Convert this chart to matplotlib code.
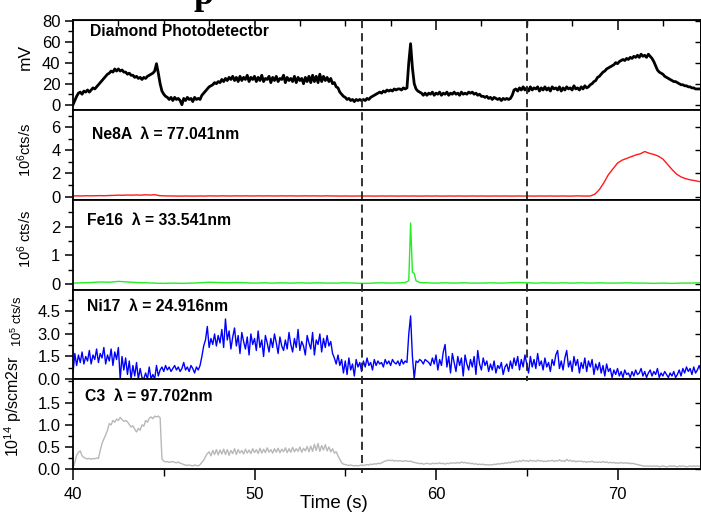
import numpy as np
import matplotlib
matplotlib.use("Agg")
import matplotlib.pyplot as plt
from matplotlib.ticker import (MultipleLocator, FormatStrFormatter,
                               NullLocator, FixedLocator)
from matplotlib.lines import Line2D
from matplotlib.transforms import blended_transform_factory

plt.rcParams["font.family"] = ["Liberation Sans", "DejaVu Sans"]
plt.rcParams["mathtext.fontset"] = "custom"
plt.rcParams["mathtext.rm"] = "Liberation Sans"
plt.rcParams["mathtext.it"] = "Liberation Sans:italic"
plt.rcParams["mathtext.bf"] = "Liberation Sans:bold"

# ---------------------------------------------------------------- data
# common 0.1 s time base for the densely sampled traces
t_fast = np.round(np.arange(40.0, 74.65, 0.1), 2)

# diamond photodetector signal (mV)
diamond_mv = [
    0, 4, 8, 11, 12, 10, 13, 12, 14, 12,
    14, 16, 15, 17, 19, 21, 23, 25, 27, 29,
    30, 32, 31, 34, 32, 34, 32, 33, 31, 31,
    29, 30, 28, 28, 26, 27, 25, 26, 24, 26,
    25, 27, 28, 29, 30, 32, 39, 30, 20, 13,
    10, 8, 7, 5, 7, 4, 7, 5, 6, 4,
    0, 6, 4, 7, 5, 6, 3, 7, 5, 6,
    5, 9, 11, 13, 15, 17, 18, 19, 21, 20,
    22, 21, 24, 22, 25, 23, 26, 24, 27, 23,
    26, 22, 27, 23, 26, 24, 28, 22, 26, 24,
    27, 22, 26, 23, 28, 22, 25, 24, 27, 21,
    26, 23, 27, 22, 25, 24, 28, 21, 26, 23,
    25, 22, 27, 21, 26, 23, 25, 20, 26, 22,
    27, 21, 28, 22, 27, 21, 29, 22, 27, 23,
    26, 22, 25, 20, 21, 17, 16, 12, 10, 8,
    7, 5, 6, 4, 5, 3, 5, 4, 5, 4,
    5, 4, 6, 5, 7, 8, 9, 10, 11, 12,
    11, 13, 12, 14, 13, 14, 13, 15, 14, 15,
    15, 14, 16, 15, 16, 40, 58, 35, 20, 15,
    13, 12, 11, 9, 11, 9, 11, 10, 12, 9,
    11, 10, 12, 9, 11, 10, 12, 9, 11, 10,
    12, 10, 11, 9, 12, 10, 11, 10, 12, 11,
    12, 10, 11, 9, 10, 8, 8, 7, 8, 6,
    7, 5, 7, 6, 5, 6, 4, 6, 5, 6,
    5, 6, 9, 14, 15, 13, 16, 14, 17, 14,
    16, 13, 17, 14, 16, 15, 17, 13, 16, 14,
    17, 14, 16, 13, 17, 15, 16, 14, 17, 13,
    16, 14, 17, 15, 16, 14, 18, 15, 16, 14,
    17, 15, 18, 16, 17, 19, 20, 22, 23, 26,
    27, 29, 31, 32, 34, 35, 36, 37, 38, 40,
    39, 41, 42, 43, 42, 44, 43, 45, 44, 46,
    45, 47, 45, 48, 46, 47, 45, 48, 46, 44,
    41, 37, 33, 31, 30, 29, 27, 26, 25, 24,
    23, 22, 22, 21, 20, 19, 19, 18, 18, 17,
    17, 16, 16, 15, 15, 15, 15,
]

# Ni17 line intensity (1e5 cts/s)
ni17 = [
    0.4, 1.7, 0.9, 1.6, 1.1, 1.8, 1.0, 1.5, 1.2, 1.9,
    1.0, 1.6, 1.3, 2.0, 1.1, 1.7, 1.4, 2.1, 1.0, 1.6,
    1.2, 2.0, 0.9, 1.8, 1.3, 2.1, 0.0, 1.5, 0.6, 1.4,
    0.3, 1.2, 0.0, 0.9, 0.2, 1.1, 0.0, 0.7, 0.1, 0.0,
    0.4, 0.0, 0.8, 0.0, 0.3, 0.0, 0.9, 0.2, 0.6, 0.8,
    0.5, 0.9, 0.6, 0.8, 0.5, 0.7, 0.9, 0.6, 0.8, 0.5,
    0.7, 1.1, 0.6, 0.8, 0.5, 0.9, 0.7, 0.4, 0.8, 0.6,
    0.9, 1.5, 2.2, 2.6, 3.5, 2.1, 2.7, 2.3, 3.0, 2.2,
    2.9, 2.4, 3.3, 2.1, 4.0, 2.6, 3.2, 2.0, 2.8, 3.4,
    2.2, 2.9, 1.7, 3.1, 2.5, 2.0, 2.8, 1.6, 3.0, 2.3,
    2.7, 1.9, 3.2, 2.1, 2.6, 1.5, 2.9, 2.4, 1.8, 2.7,
    2.1, 3.0, 2.4, 1.7, 2.8, 2.2, 1.9, 2.6, 2.0, 3.1,
    2.3, 1.8, 2.7, 2.1, 3.3, 1.9, 2.5, 2.2, 1.6, 2.9,
    2.4, 2.0, 3.1, 1.6, 2.6, 2.3, 3.0, 1.8, 2.7, 2.1,
    2.9, 2.2, 2.5, 1.7, 1.4, 1.0, 1.6, 0.9, 1.3, 0.4,
    1.2, 0.3, 1.4, 0.6, 1.0, 0.2, 1.3, 0.8, 1.1, 0.5,
    1.2, 0.8, 1.4, 0.9, 1.1, 0.6, 1.3, 0.9, 1.2, 1.0,
    1.1, 0.8, 1.3, 1.0, 1.2, 0.9, 1.3, 1.1, 1.0, 1.2,
    0.9, 1.3, 1.0, 1.2, 1.1, 3.0, 4.2, 1.5, 0.0, 1.2,
    1.1, 1.3, 1.2, 1.0, 1.3, 1.2, 1.1, 0.9, 1.4, 1.0,
    1.6, 0.6, 1.3, 0.9, 1.8, 2.3, 0.8, 1.5, 0.4, 1.7,
    1.1, 0.5, 1.5, 0.9, 1.4, 0.2, 1.6, 1.0, 0.6, 1.3,
    0.8, 1.5, 0.3, 1.9, 1.0, 0.6, 1.4, 0.9, 1.2, 0.5,
    1.0, 0.6, 1.2, 0.4, 0.9, 0.7, 1.1, 0.3, 0.8, 1.0,
    0.5, 1.2, 0.7, 1.4, 0.9, 1.5, 0.6, 1.3, 0.8, 1.6,
    1.0, 0.4, 1.5, 0.8, 1.3, 0.7, 1.7, 0.9, 1.2, 0.6,
    1.4, 0.8, 1.1, 0.5, 1.3, 0.9, 1.6, 1.9, 0.7, 1.2,
    0.6, 1.4, 1.9, 0.8, 1.2, 0.5, 1.5, 0.9, 1.3, 0.4,
    1.1, 0.7, 1.4, 0.5, 1.2, 0.8, 1.3, 0.3, 1.0, 0.6,
    1.1, 0.4, 0.9, 0.2, 1.0, 0.5, 0.7, 0.1, 0.6, 0.3,
    0.7, 0.2, 0.5, 0.1, 0.6, 0.3, 0.4, 0.1, 0.5, 0.2,
    0.6, 0.3, 0.4, 0.7, 0.2, 0.5, 0.1, 0.4, 0.6, 0.2,
    0.5, 0.3, 0.7, 0.1, 0.4, 0.2, 0.5, 0.3, 0.1, 0.4,
    0.2, 0.5, 0.1, 0.3, 0.6, 0.2, 0.7, 0.4, 0.8, 0.5,
    0.7, 0.3, 0.8, 0.4, 0.6, 0.9, 0.5,
]

# C3 radiance (1e14 p/scm2sr)
c3 = [
    0.03, 0.15, 0.31, 0.38, 0.41, 0.30, 0.26, 0.24, 0.23, 0.24,
    0.22, 0.24, 0.23, 0.25, 0.24, 0.42, 0.58, 0.68, 0.77, 0.88,
    1.03, 1.00, 1.10, 1.06, 1.13, 1.10, 1.17, 1.12, 1.08, 1.10,
    1.07, 1.01, 0.95, 0.98, 0.90, 0.84, 0.92, 0.88, 1.00, 0.97,
    1.10, 1.06, 1.15, 1.18, 1.14, 1.20, 1.18, 1.20, 1.16, 0.23,
    0.18, 0.16, 0.17, 0.15, 0.16, 0.17, 0.15, 0.14, 0.16, 0.13,
    0.12, 0.10, 0.09, 0.08, 0.09, 0.08, 0.07, 0.09, 0.08, 0.07,
    0.10, 0.15, 0.20, 0.28, 0.35, 0.39, 0.30, 0.42, 0.33, 0.44,
    0.32, 0.43, 0.34, 0.45, 0.33, 0.44, 0.31, 0.42, 0.35, 0.46,
    0.33, 0.44, 0.36, 0.42, 0.34, 0.45, 0.36, 0.43, 0.35, 0.46,
    0.37, 0.44, 0.35, 0.47, 0.36, 0.45, 0.37, 0.48, 0.38, 0.44,
    0.36, 0.46, 0.38, 0.47, 0.37, 0.45, 0.39, 0.48, 0.37, 0.46,
    0.38, 0.49, 0.39, 0.46, 0.40, 0.50, 0.38, 0.47, 0.41, 0.51,
    0.39, 0.52, 0.40, 0.56, 0.42, 0.58, 0.40, 0.53, 0.43, 0.55,
    0.41, 0.50, 0.39, 0.46, 0.36, 0.39, 0.30, 0.22, 0.14, 0.11,
    0.10, 0.09, 0.08, 0.09, 0.08, 0.07, 0.08, 0.07, 0.08, 0.09,
    0.08, 0.09, 0.10, 0.09, 0.11, 0.10, 0.12, 0.11, 0.13, 0.12,
    0.14, 0.16, 0.18, 0.19, 0.20, 0.19, 0.20, 0.18, 0.19, 0.18,
    0.19, 0.18, 0.17, 0.19, 0.18, 0.17, 0.18, 0.16, 0.15, 0.14,
    0.13, 0.12, 0.13, 0.11, 0.12, 0.13, 0.12, 0.11, 0.13, 0.12,
    0.13, 0.12, 0.14, 0.12, 0.13, 0.11, 0.13, 0.12, 0.14, 0.13,
    0.14, 0.13, 0.15, 0.13, 0.16, 0.14, 0.15, 0.13, 0.14, 0.12,
    0.13, 0.11, 0.12, 0.10, 0.11, 0.10, 0.11, 0.09, 0.10, 0.09,
    0.10, 0.09, 0.11, 0.10, 0.12, 0.11, 0.13, 0.12, 0.14, 0.13,
    0.15, 0.14, 0.16, 0.15, 0.18, 0.16, 0.19, 0.17, 0.20, 0.18,
    0.19, 0.17, 0.20, 0.18, 0.19, 0.17, 0.20, 0.18, 0.19, 0.17,
    0.18, 0.17, 0.19, 0.18, 0.20, 0.17, 0.19, 0.18, 0.21, 0.18,
    0.19, 0.17, 0.22, 0.18, 0.20, 0.17, 0.19, 0.16, 0.18, 0.17,
    0.18, 0.16, 0.17, 0.15, 0.17, 0.16, 0.18, 0.15, 0.16, 0.15,
    0.16, 0.15, 0.17, 0.15, 0.16, 0.14, 0.15, 0.14, 0.15, 0.13,
    0.14, 0.13, 0.15, 0.13, 0.14, 0.13, 0.14, 0.12, 0.13, 0.12,
    0.11, 0.10, 0.09, 0.08, 0.07, 0.06, 0.07, 0.06, 0.07, 0.06,
    0.07, 0.06, 0.07, 0.05, 0.06, 0.07, 0.06, 0.05, 0.06, 0.07,
    0.06, 0.07, 0.06, 0.05, 0.07, 0.06, 0.07, 0.06, 0.05, 0.06,
    0.07, 0.06, 0.07, 0.06, 0.07, 0.06, 0.07,
]

# Ne8A line intensity (1e6 cts/s), 0.25 s sampling
t_ne = np.round(np.arange(40.0, 74.55, 0.25), 2)
ne8a = [
    0.05, 0.06, 0.05, 0.07, 0.06, 0.07, 0.08, 0.07,
    0.09, 0.10, 0.12, 0.11, 0.13, 0.12, 0.14, 0.12,
    0.15, 0.13, 0.16, 0.08, 0.06, 0.05, 0.05, 0.04,
    0.04, 0.05, 0.04, 0.04, 0.05, 0.04, 0.06, 0.05,
    0.05, 0.06, 0.05, 0.05, 0.06, 0.05, 0.06, 0.05,
    0.05, 0.06, 0.05, 0.06, 0.05, 0.05, 0.06, 0.05,
    0.06, 0.05, 0.05, 0.06, 0.05, 0.06, 0.05, 0.05,
    0.06, 0.05, 0.05, 0.04, 0.05, 0.04, 0.04, 0.05,
    0.04, 0.05, 0.04, 0.04, 0.05, 0.04, 0.05, 0.04,
    0.04, 0.05, 0.04, 0.05, 0.04, 0.04, 0.05, 0.04,
    0.05, 0.04, 0.04, 0.05, 0.04, 0.05, 0.04, 0.04,
    0.05, 0.04, 0.05, 0.04, 0.04, 0.05, 0.04, 0.05,
    0.04, 0.04, 0.05, 0.04, 0.05, 0.04, 0.04, 0.05,
    0.04, 0.05, 0.04, 0.04, 0.05, 0.04, 0.04, 0.06,
    0.05, 0.04, 0.05,
    0.20, 0.60, 1.20, 1.90, 2.40, 2.90, 3.15, 3.30,
    3.45, 3.60, 3.70, 3.90, 3.75, 3.65, 3.50, 3.25,
    2.80, 2.35, 1.95, 1.70, 1.55, 1.45, 1.38, 1.30,
]

# Fe16 line intensity (1e6 cts/s)
fe16_t = list(np.round(np.arange(40.0, 58.05, 0.5), 2)) \
    + [58.3, 58.5, 58.6, 58.7, 58.8, 58.9, 59.1] \
    + list(np.round(np.arange(59.5, 74.55, 0.5), 2))
fe16 = [
    0.04, 0.05, 0.06, 0.08, 0.07, 0.10, 0.08, 0.06, 0.05, 0.04,
    0.03, 0.04, 0.03, 0.04, 0.05, 0.07, 0.06, 0.05, 0.06, 0.05,
    0.04, 0.05, 0.04, 0.05, 0.04, 0.05, 0.04, 0.05, 0.04, 0.04,
    0.05, 0.04, 0.03, 0.04, 0.05, 0.04, 0.05,
    0.06, 0.12, 2.13, 0.42, 0.38, 0.12, 0.06,
    0.05, 0.04, 0.05, 0.04, 0.05, 0.04, 0.04, 0.05, 0.04, 0.05,
    0.06, 0.05, 0.04, 0.05, 0.04, 0.05, 0.04, 0.05, 0.04, 0.05,
    0.04, 0.04, 0.05, 0.04, 0.04, 0.03, 0.04, 0.03, 0.04, 0.04,
    0.05,
]

# vertical markers (s)
marker_times = [55.9, 65.0]

panel_labels = [
    "Diamond Photodetector",
    "Ne8A  \u03bb = 77.041nm",
    "Fe16  \u03bb = 33.541nm",
    "Ni17  \u03bb = 24.916nm",
    "C3  \u03bb = 97.702nm",
]
y_titles = ["mV", r"10$^6$cts/s", r"10$^6$ cts/s", r"10$^5$ cts/s",
            r"10$^{14}$ p/scm2sr"]

# ---------------------------------------------------------------- layout
W, H = 701, 515
fig = plt.figure(figsize=(W / 100, H / 100), dpi=100)
edges = [20, 110, 200, 290, 379, 469]
left_px, width_px = 73, 628

axes = []
for i in range(5):
    bottom = 1 - edges[i + 1] / H
    height = (edges[i + 1] - edges[i]) / H
    axes.append(fig.add_axes([left_px / W, bottom, width_px / W, height]))

series = [
    (t_fast, diamond_mv, "black", 2.0),
    (t_ne, ne8a, "#ff1a1a", 1.0),
    (fe16_t, fe16, "#22ee22", 1.0),
    (t_fast, ni17, "#0000ff", 1.0),
    (t_fast, c3, "#b8b8b8", 1.0),
]
ylims = [(-5, 80.5), (-0.3, 7.5), (-0.2, 2.93), (0, 5.93), (0, 2.04)]
yticks = [[0, 20, 40, 60, 80], [0, 2, 4, 6], [0, 1, 2],
          [0, 1.5, 3.0, 4.5], [0, 0.5, 1.0, 1.5]]
yminor = [10, 1, 0.5, 0.75, 0.25]
yfmt = ["%d", "%d", "%d", "%.1f", "%.1f"]
ylabel_x = [33, 34, 34, 25, 24]
ylabel_y = [0.59, 0.556, 0.567, 0.65, 0.70]
ylabel_fs = [12.5, 10.5, 10.5, 9.3, 11.5]
label_pos = [(90, 0.867), (92, 0.728), (87, 0.767), (87, 0.82), (85, 0.81)]

for i, ax in enumerate(axes):
    x, y, c, lw = series[i]
    ax.plot(x, y, color=c, lw=lw)
    ax.set_xlim(40, 74.6)
    ax.set_ylim(*ylims[i])
    for s in ax.spines.values():
        s.set_linewidth(1.3)
    ax.xaxis.set_major_locator(MultipleLocator(10))
    ax.xaxis.set_minor_locator(MultipleLocator(5 if i == 4 else 2.5))
    ax.yaxis.set_major_locator(FixedLocator(yticks[i]))
    ax.yaxis.set_minor_locator(MultipleLocator(yminor[i]))
    ax.yaxis.set_major_formatter(FormatStrFormatter(yfmt[i]))
    ax.tick_params(axis="both", which="major", direction="out", length=6,
                   width=1.1, labelsize=12, pad=3)
    ax.tick_params(axis="both", which="minor", direction="out", length=3.5,
                   width=1.0)
    ax.tick_params(axis="x", which="major", length=8 if i == 4 else 7)
    ax.tick_params(axis="x", which="minor", length=5 if i == 4 else 4)
    if i < 4:
        ax.tick_params(axis="x", which="both", labelbottom=False)
    else:
        ax.tick_params(axis="x", which="major", pad=5)

    # inward ticks on the right side
    sec = ax.secondary_yaxis("right")
    sec.yaxis.set_major_locator(FixedLocator(yticks[i]))
    sec.yaxis.set_minor_locator(NullLocator())
    sec.tick_params(direction="in", length=4, width=1.0, labelright=False)
    sec.spines["right"].set_linewidth(1.3)

    ax.set_ylabel(y_titles[i], fontsize=ylabel_fs[i])
    ax.yaxis.set_label_coords((ylabel_x[i] - left_px) / width_px, ylabel_y[i])

    lx, ly = label_pos[i]
    ax.text((lx - left_px) / width_px, ly, panel_labels[i],
            transform=ax.transAxes, fontsize=11.3, fontweight="bold",
            ha="left", va="center")

# inward ticks along the top of the upper panel
top = axes[0].secondary_xaxis("top")
top.xaxis.set_major_locator(MultipleLocator(10))
top.xaxis.set_minor_locator(MultipleLocator(2.5))
top.tick_params(which="major", direction="in", length=7, width=1.1,
                labeltop=False)
top.tick_params(which="minor", direction="in", length=4, width=1.0)

# dashed time markers across the panels
tr = blended_transform_factory(axes[0].transData, fig.transFigure)
marker_ends = [1 - 473 / H, 1 - 381 / H]
for tm, yb in zip(marker_times, marker_ends):
    fig.add_artist(Line2D([tm, tm], [1 - edges[0] / H, yb], transform=tr,
                          color="#222222", lw=1.3,
                          linestyle=(0, (4.5, 2.8))))

fig.text(334 / W, 1 - 503 / H, "Time (s)", fontsize=13.5,
         ha="center", va="center")
fig.text(193 / W, 1 - 4 / H, "p", fontsize=26, fontweight="bold",
         family="Liberation Serif", ha="left", va="baseline")

fig.savefig("out.png", dpi=100)
